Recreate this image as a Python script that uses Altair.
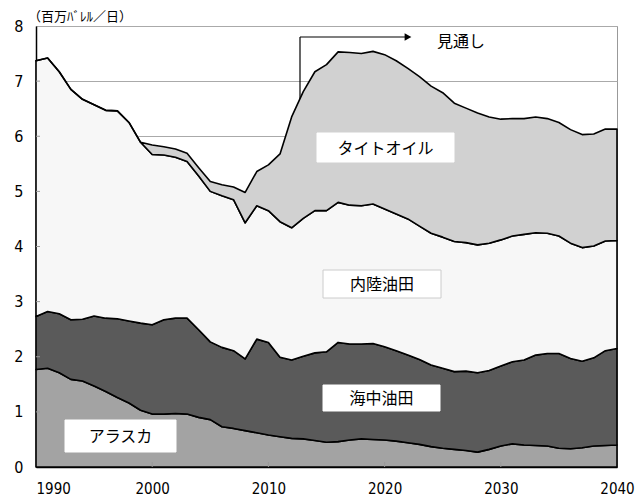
import altair as alt
import pandas as pd

years = list(range(1990, 2041))

alaska = [1.77, 1.79, 1.71, 1.59, 1.56, 1.47, 1.37, 1.26, 1.16, 1.03,
          0.96, 0.96, 0.97, 0.96, 0.90, 0.86, 0.73, 0.70, 0.66, 0.62,
          0.58, 0.55, 0.52, 0.51, 0.48, 0.45, 0.46, 0.49, 0.51, 0.50,
          0.49, 0.47, 0.44, 0.41, 0.37, 0.34, 0.32, 0.30, 0.27, 0.32,
          0.38, 0.42, 0.40, 0.39, 0.38, 0.34, 0.33, 0.35, 0.38, 0.39,
          0.40]
offshore = [0.96, 1.03, 1.07, 1.08, 1.12, 1.27, 1.33, 1.43, 1.49, 1.58,
            1.62, 1.71, 1.73, 1.74, 1.59, 1.41, 1.44, 1.41, 1.30, 1.70,
            1.68, 1.44, 1.42, 1.50, 1.59, 1.64, 1.80, 1.74, 1.72, 1.74,
            1.69, 1.64, 1.59, 1.54, 1.48, 1.45, 1.41, 1.44, 1.44, 1.43,
            1.45, 1.49, 1.54, 1.64, 1.68, 1.72, 1.64, 1.57, 1.60, 1.72,
            1.75]
inland = [4.64, 4.60, 4.39, 4.18, 3.99, 3.83, 3.77, 3.77, 3.60, 3.28,
          3.09, 2.99, 2.92, 2.84, 2.79, 2.73, 2.75, 2.74, 2.47, 2.42,
          2.39, 2.46, 2.40, 2.50, 2.58, 2.56, 2.54, 2.52, 2.51, 2.53,
          2.50, 2.48, 2.47, 2.42, 2.39, 2.38, 2.36, 2.33, 2.32, 2.31,
          2.29, 2.28, 2.28, 2.22, 2.18, 2.13, 2.09, 2.06, 2.03, 1.99,
          1.96]
tight = [0.0, 0.0, 0.0, 0.0, 0.0, 0.0, 0.0, 0.0, 0.0, 0.0,
         0.17, 0.15, 0.15, 0.15, 0.15, 0.18, 0.20, 0.23, 0.55, 0.62,
         0.83, 1.23, 2.01, 2.30, 2.52, 2.65, 2.73, 2.77, 2.76, 2.77,
         2.80, 2.78, 2.73, 2.71, 2.67, 2.62, 2.51, 2.44, 2.39, 2.29,
         2.19, 2.13, 2.10, 2.10, 2.08, 2.06, 2.06, 2.05, 2.03, 2.03,
         2.02]

series_names = ["アラスカ", "海中油田", "内陸油田", "タイトオイル"]
series_colors = ["#a3a3a3", "#5a5a5a", "#f7f7f7", "#d1d1d1"]
x_ticks = [1990, 2000, 2010, 2020, 2030, 2040]
y_ticks = [0, 1, 2, 3, 4, 5, 6, 7, 8]
unit_label = "（百万ﾊﾞﾚﾙ／日）"
outlook_label = "見通し"

rows = []
for i, yr in enumerate(years):
    for k, (name, vals) in enumerate(zip(series_names, [alaska, offshore, inland, tight])):
        rows.append({"year": yr, "series": name, "value": vals[i], "k": k})
df = pd.DataFrame(rows)

W, H = 581, 441
NUM_FONT = "Liberation Sans Narrow, DejaVu Sans Condensed, Liberation Sans, sans-serif"
JP_FONT = "Noto Sans CJK JP"

x_scale = alt.Scale(domain=[1990, 2040], nice=False, zero=False)
y_scale = alt.Scale(domain=[0, 8], nice=False, zero=True)

one = pd.DataFrame({"d": [0]})

# arrow (drawn first, areas cover its lower end)
arrow_v = alt.Chart(one).mark_rule(color="black", strokeWidth=1.2).encode(
    x=alt.value(264), y=alt.value(11), y2=alt.value(120))
arrow_h = alt.Chart(one).mark_rule(color="black", strokeWidth=1.2).encode(
    x=alt.value(264), x2=alt.value(370), y=alt.value(11))
arrow_head = alt.Chart(one).mark_point(shape="triangle-right", filled=True, color="black",
                                       size=60, opacity=1).encode(
    x=alt.value(372), y=alt.value(11))

areas = alt.Chart(df).mark_area(stroke="black", strokeWidth=1.6, strokeJoin="round",
                                opacity=1, interpolate="linear").encode(
    x=alt.X("year:Q", scale=x_scale,
            axis=alt.Axis(values=x_ticks, format="d", title=None, grid=False, ticks=False,
                          domainColor="black", domainWidth=1.5, labelFont=NUM_FONT,
                          labelFontSize=15, labelColor="black", labelPadding=14,
                          labelFlush=False,
                          labelAlign={"condition": {"test": "datum.value == 1990", "value": "left"},
                                      "value": "center"})),
    y=alt.Y("value:Q", stack="zero", scale=y_scale,
            axis=alt.Axis(values=y_ticks, format="d", title=None, grid=True, gridColor="#aaaaaa",
                          gridWidth=1, ticks=False, domainColor="black", domainWidth=1.5,
                          labelFont=NUM_FONT, labelFontSize=16, labelColor="black",
                          labelPadding=13)),
    color=alt.Color("series:N", scale=alt.Scale(domain=series_names, range=series_colors),
                    legend=None),
    order=alt.Order("k:Q", sort="ascending"),
)

ytick_df = pd.DataFrame({"v": y_ticks[1:-1]})
ytick_rules = alt.Chart(ytick_df).mark_rule(color="#999999", strokeWidth=1).encode(
    y=alt.Y("v:Q", scale=y_scale), x=alt.value(0), x2=alt.value(4))
xtick_df = pd.DataFrame({"t": x_ticks[1:-1]})
xtick_rules = alt.Chart(xtick_df).mark_rule(color="#999999", strokeWidth=1).encode(
    x=alt.X("t:Q", scale=x_scale), y=alt.value(H - 5), y2=alt.value(H))


def label_box(text, x0, x1, y0, y1, border=None):
    box = alt.Chart(one).mark_rect(fill="white", stroke=border if border else "white",
                                   strokeWidth=1).encode(
        x=alt.value(x0), x2=alt.value(x1), y=alt.value(y0), y2=alt.value(y1))
    txt = alt.Chart(one).mark_text(text=text, font=JP_FONT, fontSize=16, color="black",
                                   align="center", baseline="middle").encode(
        x=alt.value((x0 + x1) / 2), y=alt.value((y0 + y1) / 2 + 1))
    return [box, txt]


boxes = []
boxes += label_box(series_names[3], 281, 418, 107, 136)
boxes += label_box(series_names[2], 287, 405, 244, 272, border="#cccccc")
boxes += label_box(series_names[1], 287, 404, 359, 385)
boxes += label_box(series_names[0], 29, 140, 394, 426)

outlook = alt.Chart(one).mark_text(text=outlook_label, font=JP_FONT, fontSize=16,
                                   color="black", align="center", baseline="middle").encode(
    x=alt.value(425), y=alt.value(16))
unit = alt.Chart(one).mark_text(text=unit_label, font=JP_FONT, fontSize=13, color="black",
                                align="left", baseline="middle").encode(
    x=alt.value(-8), y=alt.value(-9))

chart = alt.layer(arrow_v, arrow_h, arrow_head, areas, ytick_rules, xtick_rules,
                  *boxes, outlook, unit).properties(
    width=W, height=H,
    padding={"left": 36, "top": 26, "right": 18, "bottom": 32},
    autosize=alt.AutoSizeParams(type="none"),
    background="white",
).configure_view(stroke="#999999", strokeWidth=1)

chart.save("out.html", embed_options={"renderer": "svg", "actions": False})
